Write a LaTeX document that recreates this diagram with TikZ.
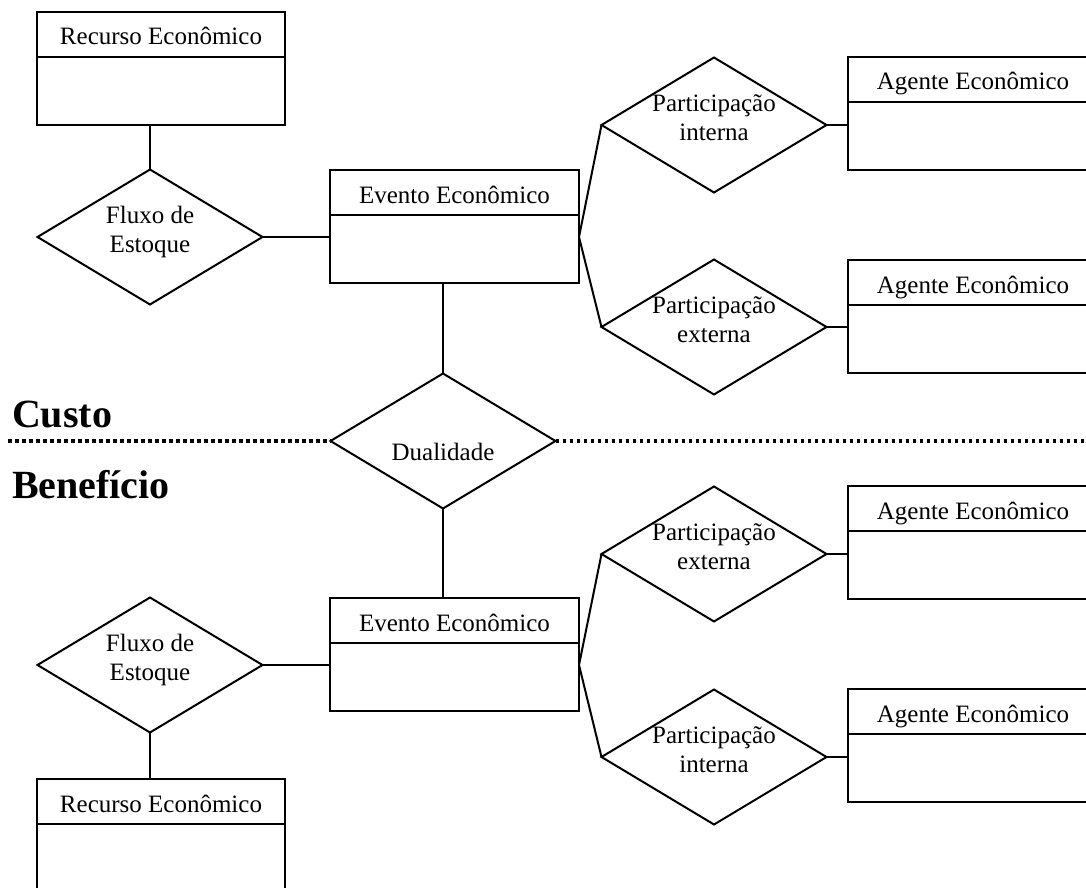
\documentclass[tikz,border=0pt]{standalone}
\usepackage{fontspec}
\setmainfont{Liberation Serif}
\usetikzlibrary{shapes.geometric}

% entity box: name, x, y (top left), title; optional style
\newcommand\entitybox[5][]{%
  \node[entity,#1] (#2) at (#3,#4) {};
  \draw ([yshift=-22.5pt]#2.north west) -- ([yshift=-22.5pt]#2.north east);
  \node[title] (#2-t) at ([yshift=-16.5pt]#2.north) {#5};
}

\begin{document}
\begin{tikzpicture}[x=0.5pt,y=-0.5pt,
  line width=1pt,
  entity/.style={draw, rectangle, anchor=north west, minimum width=124pt,
    minimum height=56.5pt, inner sep=0pt, outer sep=0pt},
  agentbox/.style={minimum width=125pt},
  relation/.style={draw, diamond, minimum width=112.5pt, minimum height=67.5pt,
    inner sep=0pt, outer sep=0pt},
  lbl/.style={font=\fontsize{12.5}{14.5}\selectfont, align=center, inner sep=0pt},
  title/.style={font=\fontsize{12.5}{14.5}\selectfont, anchor=base, inner sep=0pt},
  side/.style={font=\fontsize{20}{24}\selectfont\bfseries, anchor=base west, inner sep=0pt},
  divide/.style={dash pattern=on 1.75pt off 1.75pt, line width=1.6pt}
]
\useasboundingbox (0,0) rectangle (1086,888);
\clip (0,0) rectangle (1086,888);

% ---- cost side ----
\entitybox{r1}{37}{12}{Recurso Econômico}
\entitybox[minimum width=124.5pt]{e1}{330}{170}{Evento Econômico}
\entitybox[agentbox]{a1}{848}{57}{Agente Econômico}
\entitybox[agentbox]{a2}{848}{260}{Agente Econômico}

\node[relation] (f1) at (150,237) {};
\node[lbl] (f1-t) at ([yshift=2.5pt]f1.center) {Fluxo de\\Estoque};
\node[relation] (p1) at (714,125) {};
\node[lbl] (p1-t) at ([yshift=3.75pt]p1.center) {Participação\\interna};
\node[relation] (p2) at (714,327) {};
\node[lbl] (p2-t) at ([yshift=3.75pt]p2.center) {Participação\\externa};

% ---- duality ----
\node[relation] (d) at (443,441) {};
\node[lbl] (d-t) at ([yshift=-5.5pt]d.center) {Dualidade};

% ---- benefit side ----
\entitybox[minimum width=124.5pt]{e2}{330}{598}{Evento Econômico}
\entitybox{r2}{37}{779}{Recurso Econômico}
\entitybox[agentbox]{a3}{848}{486}{Agente Econômico}
\entitybox[agentbox]{a4}{848}{689}{Agente Econômico}

\node[relation] (f2) at (150,665) {};
\node[lbl] (f2-t) at ([yshift=2.5pt]f2.center) {Fluxo de\\Estoque};
\node[relation] (p3) at (714,554) {};
\node[lbl] (p3-t) at ([yshift=3.75pt]p3.center) {Participação\\externa};
\node[relation] (p4) at (714,757) {};
\node[lbl] (p4-t) at ([yshift=3.75pt]p4.center) {Participação\\interna};

% ---- connectors ----
\draw (f1.north) -- (f1.north |- r1.south);
\draw (f1.east) -- (f1.east -| e1.west);
\coordinate (e1r) at (e1.east |- f1.east);
\draw (p1.west) -- (e1r) -- (p2.west);
\draw (p1.east) -- (p1.east -| a1.west);
\draw (p2.east) -- (p2.east -| a2.west);
\draw (d.north) -- (d.north |- e1.south);
\draw (d.south) -- (d.south |- e2.north);
\draw (f2.east) -- (f2.east -| e2.west);
\coordinate (e2r) at (e2.east |- f2.east);
\draw (p3.west) -- (e2r) -- (p4.west);
\draw (p3.east) -- (p3.east -| a3.west);
\draw (p4.east) -- (p4.east -| a4.west);
\draw (f2.south) -- (f2.south |- r2.north);

% ---- cost / benefit divide ----
\coordinate (ls) at (8,441);
\coordinate (le) at (1090,441);
\draw[divide] (ls) -- (d.west);
\draw[divide] (d.east) -- (le);
\node[side] (custo) at (11,427) {Custo};
\node[side] (benef) at (11,498) {Benefício};
\end{tikzpicture}
\end{document}
